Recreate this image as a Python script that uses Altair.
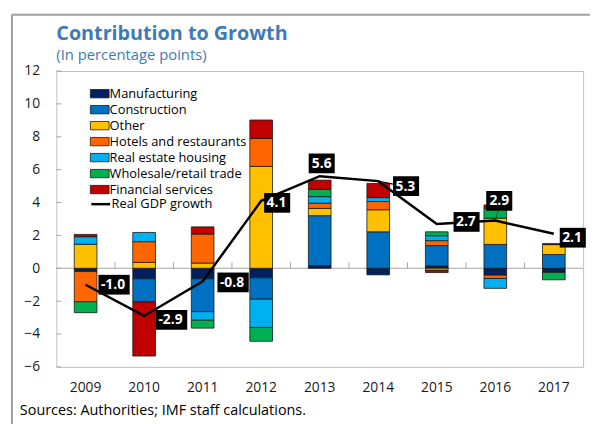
import altair as alt
import pandas as pd

years = ["2009", "2010", "2011", "2012", "2013", "2014", "2015", "2016", "2017"]
sectors = ["Manufacturing", "Construction", "Other", "Hotels and restaurants",
           "Real estate housing", "Wholesale/retail trade", "Financial services"]
manufacturing = [-0.20, -0.64, -0.64, -0.58, 0.16, -0.40, 0.14, -0.42, -0.25]
construction = [0.0, -1.40, -2.00, -1.30, 3.04, 2.22, 1.24, 1.45, 0.84]
other = [1.46, 0.36, 0.32, 6.20, 0.44, 1.34, -0.12, 1.60, 0.60]
hotels = [-1.84, 1.26, 1.76, 1.70, 0.32, 0.50, 0.30, -0.20, 0.0]
real_estate = [0.46, 0.56, -0.52, -1.72, 0.40, 0.24, 0.30, -0.60, 0.0]
wholesale = [-0.66, 0.0, -0.48, -0.84, 0.44, 0.0, 0.24, 0.60, -0.45]
financial = [0.14, -3.30, 0.44, 1.12, 0.56, 0.86, -0.14, 0.20, 0.06]
gdp = [-1.0, -2.9, -0.8, 4.1, 5.6, 5.3, 2.7, 2.9, 2.1]
gdp_labels = ["-1.0", "-2.9", "-0.8", "4.1", "5.6", "5.3", "2.7", "2.9", "2.1"]
y_ticks = [-6, -4, -2, 0, 2, 4, 6, 8, 10, 12]

colors = ["#002060", "#0070C0", "#FFC000", "#FF6600", "#00B0F0", "#00B050", "#C00000"]
FONT = "Open Sans"
TITLE_COLOR = "#3E7BB6"

series = [manufacturing, construction, other, hotels, real_estate, wholesale, financial]
rows = []
for k, (name, vals) in enumerate(zip(sectors, series)):
    for yr, v in zip(years, vals):
        rows.append({"year": yr, "sector": name, "value": v, "order": k})
bar_df = pd.DataFrame(rows)

# label placement style: (mode, dx, dy)
placement = {
    "2009": ("right", 13, 0), "2010": ("right", 12, 4), "2011": ("right", 15, 1),
    "2012": ("right", 3, 2), "2013": ("above", 2, -13), "2014": ("right", 15, 5),
    "2015": ("right", 17, -2), "2016": ("above", 4, -20), "2017": ("right", 6, 4),
}
leaders = {"2014": (15, 3), "2016": (3, -11)}
cw = {"-": 5.3, ".": 4.0}


def box_path(label, mode, dx, dy, year):
    w = sum(cw.get(c, 8.7) for c in label) + 5
    h = 20
    x0 = dx if mode == "right" else dx - w / 2
    p = f"M{x0:.1f},{dy - h/2:.1f}H{x0 + w:.1f}V{dy + h/2:.1f}H{x0:.1f}Z"
    if year in leaders:
        lx, ly = leaders[year]
        p += f"M0,-0.7L{lx},{ly - 0.7}L{lx},{ly + 0.7}L0,0.7Z"
    return p


lab_rows = []
for yr, v, lab in zip(years, gdp, gdp_labels):
    mode, dx, dy = placement[yr]
    lab_rows.append({"year": yr, "gdp": v, "label": lab,
                     "path": box_path(lab, mode, dx, dy, yr)})
lab_df = pd.DataFrame(lab_rows)

gdp_df = pd.DataFrame({"year": years, "gdp": gdp, "series": "Real GDP growth"})

xscale = alt.Scale(domain=years, paddingInner=0, paddingOuter=0)
yscale = alt.Scale(domain=[-6, 12], nice=False, zero=False)
xaxis = alt.Axis(ticks=False, domain=False, labelAngle=0, labelFont=FONT,
                 labelFontSize=14, labelColor="#1a1a1a", labelPadding=14, title=None)
yaxis = alt.Axis(values=y_ticks, ticks=False, domain=False, grid=False,
                 labelFont=FONT, labelFontSize=14, labelColor="#1a1a1a",
                 labelPadding=17, labelOverlap=False, title=None)


def XF(field="year:N", **kw):
    return alt.X(field, scale=xscale, axis=xaxis, **kw)


def YF(field):
    return alt.Y(field, scale=yscale, axis=yaxis)


legend_path = "M-1.46,-0.65H1.46V0.65H-1.46Z"

zero = alt.Chart(pd.DataFrame({"z": [0]})).mark_rule(color="#A6A6A6", strokeWidth=1.2).encode(
    y=YF("z:Q"))

xticks = alt.Chart(pd.DataFrame({"year": years[1:], "a": 0, "b": 0.36})).mark_rule(
    color="#A6A6A6", strokeWidth=1).encode(
    x=XF(bandPosition=0), y=YF("a:Q"), y2="b:Q")

yticks = alt.Chart(pd.DataFrame({"v": y_ticks})).mark_rule(color="#A6A6A6").encode(
    y=YF("v:Q"), x=alt.value(0), x2=alt.value(5))

bars = alt.Chart(bar_df).transform_filter("datum.value != 0").mark_bar(
    size=23, stroke="#1a1a1a", strokeWidth=0.8).encode(
    x=XF(), y=YF("value:Q"),
    color=alt.Color("sector:N", scale=alt.Scale(domain=sectors, range=colors),
                    legend=alt.Legend(title=None, orient="none", legendX=37, legendY=16,
                                      symbolType=legend_path, symbolSize=169,
                                      symbolStrokeColor="#1a1a1a", symbolStrokeWidth=0.8,
                                      symbolOpacity=1,
                                      labelFont=FONT, labelFontSize=13, labelColor="#000000",
                                      rowPadding=2.2, padding=0, labelOffset=3)),
    order=alt.Order("order:Q", sort="ascending"),
)

line = alt.Chart(gdp_df).mark_line(strokeWidth=2.5).encode(
    x=XF(), y=YF("gdp:Q"),
    stroke=alt.Stroke("series:N", scale=alt.Scale(range=["#000000"]),
                      legend=alt.Legend(title=None, orient="none", legendX=34,
                                        legendY=124, symbolType="stroke", symbolSize=361,
                                        symbolStrokeWidth=2.5,
                                        labelFont=FONT, labelFontSize=13,
                                        labelColor="#000000", padding=0, labelOffset=0)),
)

boxes = alt.Chart(lab_df).mark_point(filled=True, size=4, opacity=1, strokeWidth=0,
                                     color="#000000").encode(
    x=XF(), y=YF("gdp:Q"),
    shape=alt.Shape("path:N", scale=None, legend=None),
)

text_layers = []
for yr in years:
    mode, dx, dy = placement[yr]
    base = alt.Chart(lab_df).transform_filter(f"datum.year == '{yr}'")
    if mode == "right":
        mk = base.mark_text(align="left", baseline="middle", dx=dx + 2.5, dy=dy + 0.5,
                            font=FONT, fontWeight="bold", fontSize=14, color="#FFFFFF")
    else:
        mk = base.mark_text(align="center", baseline="middle", dx=dx, dy=dy + 0.5,
                            font=FONT, fontWeight="bold", fontSize=14, color="#FFFFFF")
    text_layers.append(mk.encode(x=XF(), y=YF("gdp:Q"), text="label:N"))

one = pd.DataFrame({"a": [0]})
frame_left = alt.Chart(one).mark_rule(color="#A0A0A0", strokeWidth=2).encode(
    x=alt.value(-45), y=alt.value(-57), y2=alt.value(360))
frame_top = alt.Chart(one).mark_rule(color="#A0A0A0", strokeWidth=2).encode(
    x=alt.value(-45), x2=alt.value(545), y=alt.value(-57))

title = alt.Chart(pd.DataFrame({"t": ["Contribution to Growth"]})).mark_text(
    align="left", baseline="alphabetic", font=FONT, fontWeight="bold", fontSize=20,
    color=TITLE_COLOR).encode(x=alt.value(0), y=alt.value(-31), text="t:N")
subtitle = alt.Chart(pd.DataFrame({"t": ["(In percentage points)"]})).mark_text(
    align="left", baseline="alphabetic", font=FONT, fontSize=15,
    color=TITLE_COLOR).encode(x=alt.value(0), y=alt.value(-11), text="t:N")
source = alt.Chart(pd.DataFrame({"t": ["Sources: Authorities; IMF staff calculations."]})).mark_text(
    align="left", baseline="alphabetic", font=FONT, fontSize=14.6,
    color="#000000").encode(x=alt.value(-37), y=alt.value(349), text="t:N")

chart = alt.layer(
    frame_left, frame_top, zero, xticks, yticks, bars, line, boxes, *text_layers,
    title, subtitle, source,
).resolve_scale(color="independent", shape="independent").properties(
    width=534, height=300,
    autosize=alt.AutoSizeParams(type="none"),
    padding={"left": 49, "top": 61, "right": 7, "bottom": 55},
).configure_view(stroke="#BFBFBF", strokeWidth=1)

chart.save("out.html", embed_options={"renderer": "svg", "actions": False})
